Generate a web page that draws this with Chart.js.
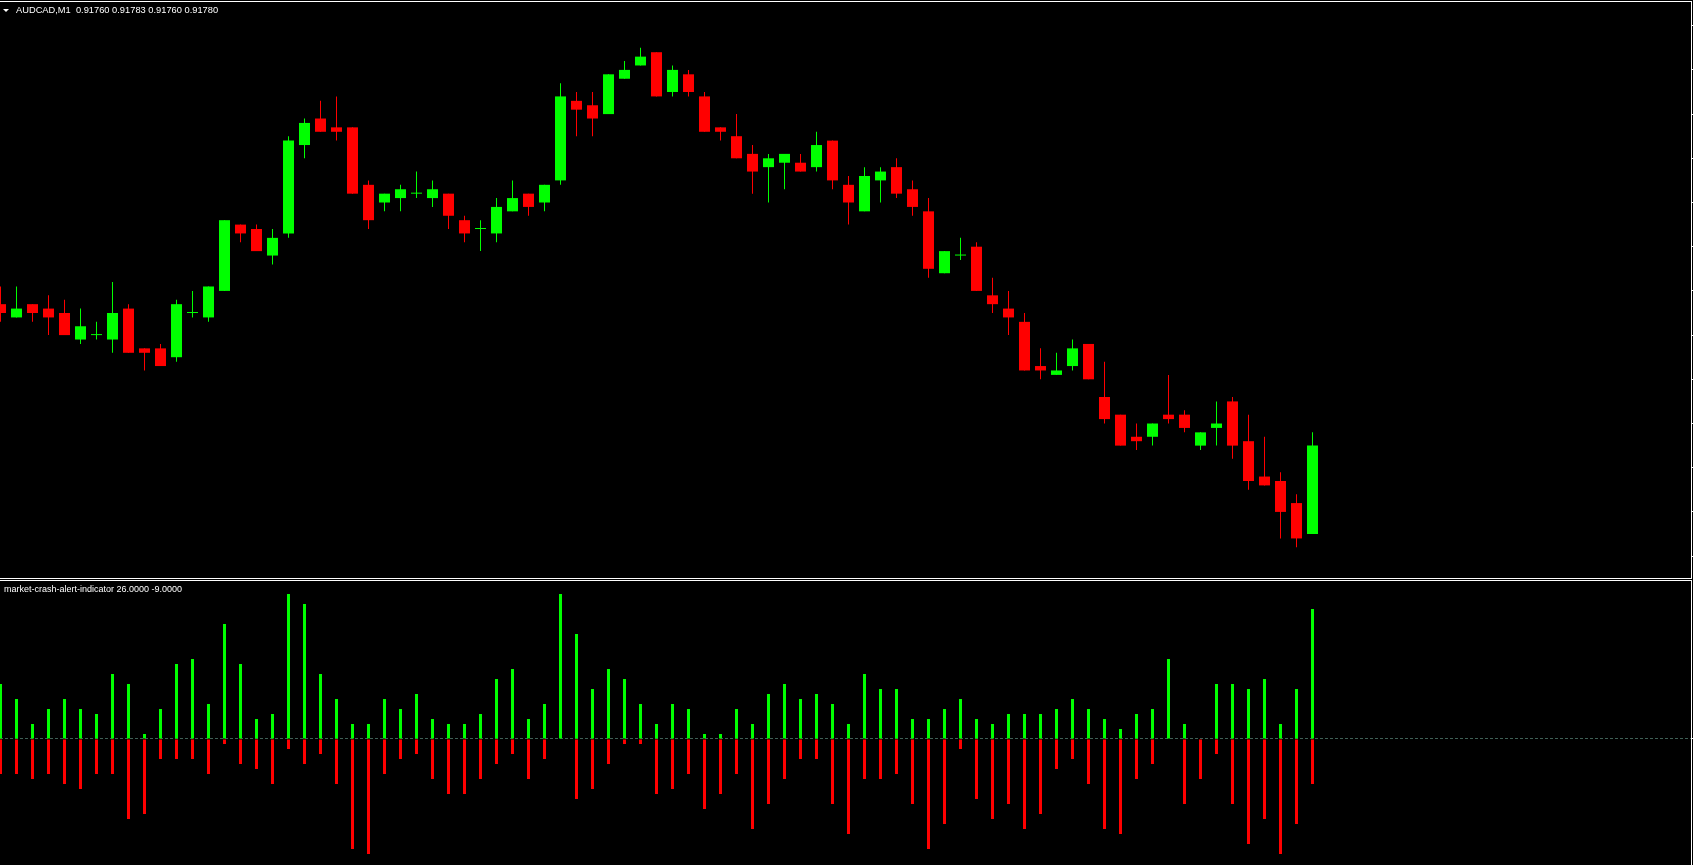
<!DOCTYPE html>
<html>
<head>
<meta charset="utf-8">
<title>AUDCAD,M1</title>
<script src="https://cdn.jsdelivr.net/npm/chart.js@4.4.1/dist/chart.umd.min.js"></script>
<style>
  html, body { margin: 0; padding: 0; background: #000; overflow: hidden; }
  #wrap { position: relative; width: 1693px; height: 865px; background: #000; }
  canvas { position: absolute; left: 0; }
  #price { top: 0; }
  #crash { top: 579px; }
</style>
</head>
<body>
<div id="wrap">
  <canvas id="price" width="1693" height="579"></canvas>
  <canvas id="crash" width="1693" height="286"></canvas>
</div>
<script>
const symbol = 'AUDCAD,M1';
const indicatorName = 'market-crash-alert-indicator';

// one-minute candles, oldest first
const openPrices = [
  0.91812, 0.91809, 0.91812, 0.91811, 0.91810, 0.91804, 0.91805, 0.91804, 0.91811, 0.91802,
  0.91802, 0.91800, 0.91810, 0.91809, 0.91815, 0.91830, 0.91829, 0.91823, 0.91828, 0.91848,
  0.91854, 0.91852, 0.91852, 0.91839, 0.91835, 0.91836, 0.91837, 0.91836, 0.91837, 0.91831,
  0.91829, 0.91828, 0.91833, 0.91837, 0.91835, 0.91840, 0.91858, 0.91857, 0.91855, 0.91863,
  0.91866, 0.91869, 0.91860, 0.91864, 0.91859, 0.91852, 0.91850, 0.91846, 0.91843, 0.91844,
  0.91844, 0.91843, 0.91849, 0.91839, 0.91833, 0.91840, 0.91843, 0.91838, 0.91833, 0.91819,
  0.91823, 0.91825, 0.91814, 0.91811, 0.91808, 0.91798, 0.91796, 0.91798, 0.91803, 0.91791,
  0.91787, 0.91782, 0.91782, 0.91787, 0.91787, 0.91780, 0.91784, 0.91790, 0.91781, 0.91773,
  0.91772, 0.91767, 0.91760
];
const highPrices = [
  0.91816, 0.91816, 0.91812, 0.91814, 0.91813, 0.91811, 0.91808, 0.91817, 0.91812, 0.91802,
  0.91803, 0.91813, 0.91815, 0.91816, 0.91831, 0.91830, 0.91830, 0.91829, 0.91850, 0.91854,
  0.91858, 0.91859, 0.91852, 0.91840, 0.91837, 0.91839, 0.91842, 0.91840, 0.91837, 0.91832,
  0.91831, 0.91836, 0.91840, 0.91837, 0.91839, 0.91862, 0.91860, 0.91860, 0.91864, 0.91867,
  0.91870, 0.91869, 0.91866, 0.91865, 0.91860, 0.91852, 0.91855, 0.91848, 0.91846, 0.91846,
  0.91846, 0.91851, 0.91849, 0.91841, 0.91843, 0.91843, 0.91845, 0.91840, 0.91836, 0.91824,
  0.91827, 0.91826, 0.91818, 0.91815, 0.91810, 0.91802, 0.91801, 0.91804, 0.91803, 0.91799,
  0.91787, 0.91785, 0.91785, 0.91796, 0.91788, 0.91783, 0.91790, 0.91791, 0.91787, 0.91782,
  0.91774, 0.91769, 0.91783
];
const lowPrices = [
  0.91808, 0.91809, 0.91808, 0.91805, 0.91805, 0.91803, 0.91804, 0.91801, 0.91801, 0.91797,
  0.91798, 0.91799, 0.91809, 0.91808, 0.91815, 0.91826, 0.91824, 0.91821, 0.91827, 0.91845,
  0.91851, 0.91849, 0.91837, 0.91829, 0.91833, 0.91833, 0.91836, 0.91834, 0.91829, 0.91826,
  0.91824, 0.91826, 0.91833, 0.91832, 0.91833, 0.91839, 0.91850, 0.91850, 0.91855, 0.91863,
  0.91866, 0.91859, 0.91859, 0.91859, 0.91851, 0.91849, 0.91845, 0.91837, 0.91835, 0.91838,
  0.91842, 0.91842, 0.91838, 0.91830, 0.91833, 0.91835, 0.91836, 0.91832, 0.91818, 0.91819,
  0.91822, 0.91815, 0.91810, 0.91805, 0.91797, 0.91795, 0.91796, 0.91797, 0.91795, 0.91785,
  0.91780, 0.91779, 0.91780, 0.91785, 0.91783, 0.91779, 0.91780, 0.91777, 0.91770, 0.91771,
  0.91759, 0.91757, 0.91760
];
const closePrices = [
  0.91810, 0.91811, 0.91810, 0.91809, 0.91805, 0.91807, 0.91805, 0.91810, 0.91801, 0.91801,
  0.91798, 0.91812, 0.91810, 0.91816, 0.91831, 0.91828, 0.91824, 0.91827, 0.91849, 0.91853,
  0.91851, 0.91851, 0.91837, 0.91831, 0.91837, 0.91838, 0.91837, 0.91838, 0.91832, 0.91828,
  0.91829, 0.91834, 0.91836, 0.91834, 0.91839, 0.91859, 0.91856, 0.91854, 0.91864, 0.91865,
  0.91868, 0.91859, 0.91865, 0.91860, 0.91851, 0.91851, 0.91845, 0.91842, 0.91845, 0.91846,
  0.91842, 0.91848, 0.91840, 0.91835, 0.91841, 0.91842, 0.91837, 0.91834, 0.91820, 0.91824,
  0.91823, 0.91815, 0.91812, 0.91809, 0.91797, 0.91797, 0.91797, 0.91802, 0.91795, 0.91786,
  0.91780, 0.91781, 0.91785, 0.91786, 0.91784, 0.91783, 0.91785, 0.91780, 0.91772, 0.91771,
  0.91765, 0.91759, 0.91780
];

// price scale marks (only their little ticks show at the right edge)
const priceTicks = [0.91755, 0.91765, 0.91775, 0.91785, 0.91795, 0.91805, 0.91815,
  0.91825, 0.91835, 0.91845, 0.91855, 0.91865, 0.91875];

// indicator histogram
const bullValues = [
  11, 8, 3, 6, 8, 6, 5, 13, 11, 1, 6, 15, 16, 7, 23, 15, 4, 5, 29, 27,
  13, 8, 3, 3, 8, 6, 9, 4, 3, 3, 5, 12, 14, 4, 7, 29, 21, 10, 14, 12,
  7, 3, 7, 6, 1, 1, 6, 3, 9, 11, 8, 9, 7, 3, 13, 10, 10, 4, 4, 6,
  8, 4, 3, 5, 5, 5, 6, 8, 6, 4, 2, 5, 6, 16, 3, 0, 11, 11, 10, 12,
  3, 10, 26
];
const bearValues = [
  -7, -7, -8, -7, -9, -10, -7, -7, -16, -15, -4, -4, -4, -7, -1, -5, -6, -9, -2, -5,
  -3, -9, -22, -23, -7, -4, -3, -8, -11, -11, -8, -5, -3, -8, -4, 0, -12, -10, -5, -1,
  -1, -11, -10, -7, -14, -11, -7, -18, -13, -8, -4, -4, -13, -19, -8, -8, -7, -13, -22, -17,
  -2, -12, -16, -13, -18, -15, -6, -4, -9, -18, -19, -8, -5, 0, -13, -8, -3, -13, -21, -16,
  -23, -17, -9
];
const levelValues = [0];

const UP = '#00ff00';
const DOWN = '#ff0000';
const barIndex = openPrices.map((_, i) => i);
const candleColors = barIndex.map(i => closePrices[i] >= openPrices[i] ? UP : DOWN);
const last = barIndex.length - 1;

// 16 px per bar, first bar centred half a pixel in
const xRange = { min: -1 / 32, max: -1 / 32 + 1691 / 16 };

const framePlugin = {
  id: 'frame',
  afterDraw(chart, args, opts) {
    const { ctx, chartArea: a } = chart;
    ctx.save();
    ctx.fillStyle = '#ffffff';
    ctx.fillRect(0, a.top - 1, a.right + 1, 1);
    ctx.fillRect(a.right, a.top - 1, 1, a.bottom - a.top + 1);
    if (opts.bottom) ctx.fillRect(0, a.bottom, a.right + 1, 1);
    ctx.restore();
  }
};

const captionPlugin = {
  id: 'caption',
  afterDraw(chart, args, opts) {
    const ctx = chart.ctx;
    ctx.save();
    ctx.fillStyle = '#ffffff';
    if (opts.arrow) {
      ctx.beginPath();
      ctx.moveTo(3, 9);
      ctx.lineTo(9, 9);
      ctx.lineTo(6, 12);
      ctx.closePath();
      ctx.fill();
    }
    ctx.font = opts.size + 'px "Liberation Sans", Arial, sans-serif';
    ctx.textBaseline = 'alphabetic';
    ctx.fillText(opts.text, opts.x, opts.y);
    ctx.restore();
  }
};

const p5 = v => v.toFixed(5);

new Chart(document.getElementById('price'), {
  type: 'bar',
  data: {
    datasets: [
      {
        label: 'wick',
        data: barIndex.map(i => ({ x: i, y: [lowPrices[i], highPrices[i]] })),
        backgroundColor: candleColors,
        barThickness: 1,
        grouped: false,
        inflateAmount: 0,
        minBarLength: 1
      },
      {
        label: 'body',
        data: barIndex.map(i => ({ x: i, y: [openPrices[i], closePrices[i]] })),
        backgroundColor: candleColors,
        barThickness: 11,
        grouped: false,
        inflateAmount: 0,
        minBarLength: 1
      }
    ]
  },
  options: {
    responsive: false,
    animation: false,
    events: [],
    layout: { padding: { top: 2, bottom: 1, left: 0, right: 0 } },
    plugins: {
      legend: { display: false },
      tooltip: { enabled: false },
      frame: { bottom: true },
      caption: {
        arrow: true,
        x: 16,
        y: 13,
        size: 9.3,
        text: symbol + '  ' + [openPrices[last], highPrices[last], lowPrices[last], closePrices[last]].map(p5).join(' ')
      }
    },
    scales: {
      x: { type: 'linear', display: false, offset: false, min: xRange.min, max: xRange.max },
      y: {
        type: 'linear',
        position: 'right',
        min: 0.9175005,
        max: 0.9188036,
        afterBuildTicks: scale => { scale.ticks = priceTicks.map(v => ({ value: v })); },
        ticks: { display: false },
        grid: { drawOnChartArea: false, drawTicks: true, tickLength: 2, tickColor: '#ffffff', color: '#ffffff' },
        border: { display: false }
      }
    }
  },
  plugins: [framePlugin, captionPlugin]
});

new Chart(document.getElementById('crash'), {
  type: 'bar',
  data: {
    datasets: [
      {
        label: 'up',
        data: barIndex.map(i => ({ x: i, y: bullValues[i] })),
        backgroundColor: UP,
        barThickness: 3,
        grouped: false,
        inflateAmount: 0
      },
      {
        label: 'down',
        data: barIndex.map(i => ({ x: i, y: bearValues[i] })),
        backgroundColor: DOWN,
        barThickness: 3,
        grouped: false,
        inflateAmount: 0
      }
    ]
  },
  options: {
    responsive: false,
    animation: false,
    events: [],
    layout: { padding: { top: 2, bottom: 0, left: 0, right: 0 } },
    plugins: {
      legend: { display: false },
      tooltip: { enabled: false },
      frame: { bottom: false },
      caption: {
        arrow: false,
        x: 4,
        y: 13,
        size: 9,
        text: indicatorName + ' ' + bullValues[last].toFixed(4) + ' ' + bearValues[last].toFixed(4)
      }
    },
    scales: {
      x: { type: 'linear', display: false, offset: false, min: xRange.min, max: xRange.max },
      y: {
        type: 'linear',
        position: 'right',
        min: -25.2,
        max: 31.6,
        afterBuildTicks: scale => { scale.ticks = levelValues.map(v => ({ value: v })); },
        ticks: { display: false },
        grid: { drawOnChartArea: true, drawTicks: true, tickLength: 2, tickColor: '#ffffff', color: '#3f5f55', z: -1 },
        border: { display: false, dash: [3, 2] }
      }
    }
  },
  plugins: [framePlugin, captionPlugin]
});
</script>
</body>
</html>
